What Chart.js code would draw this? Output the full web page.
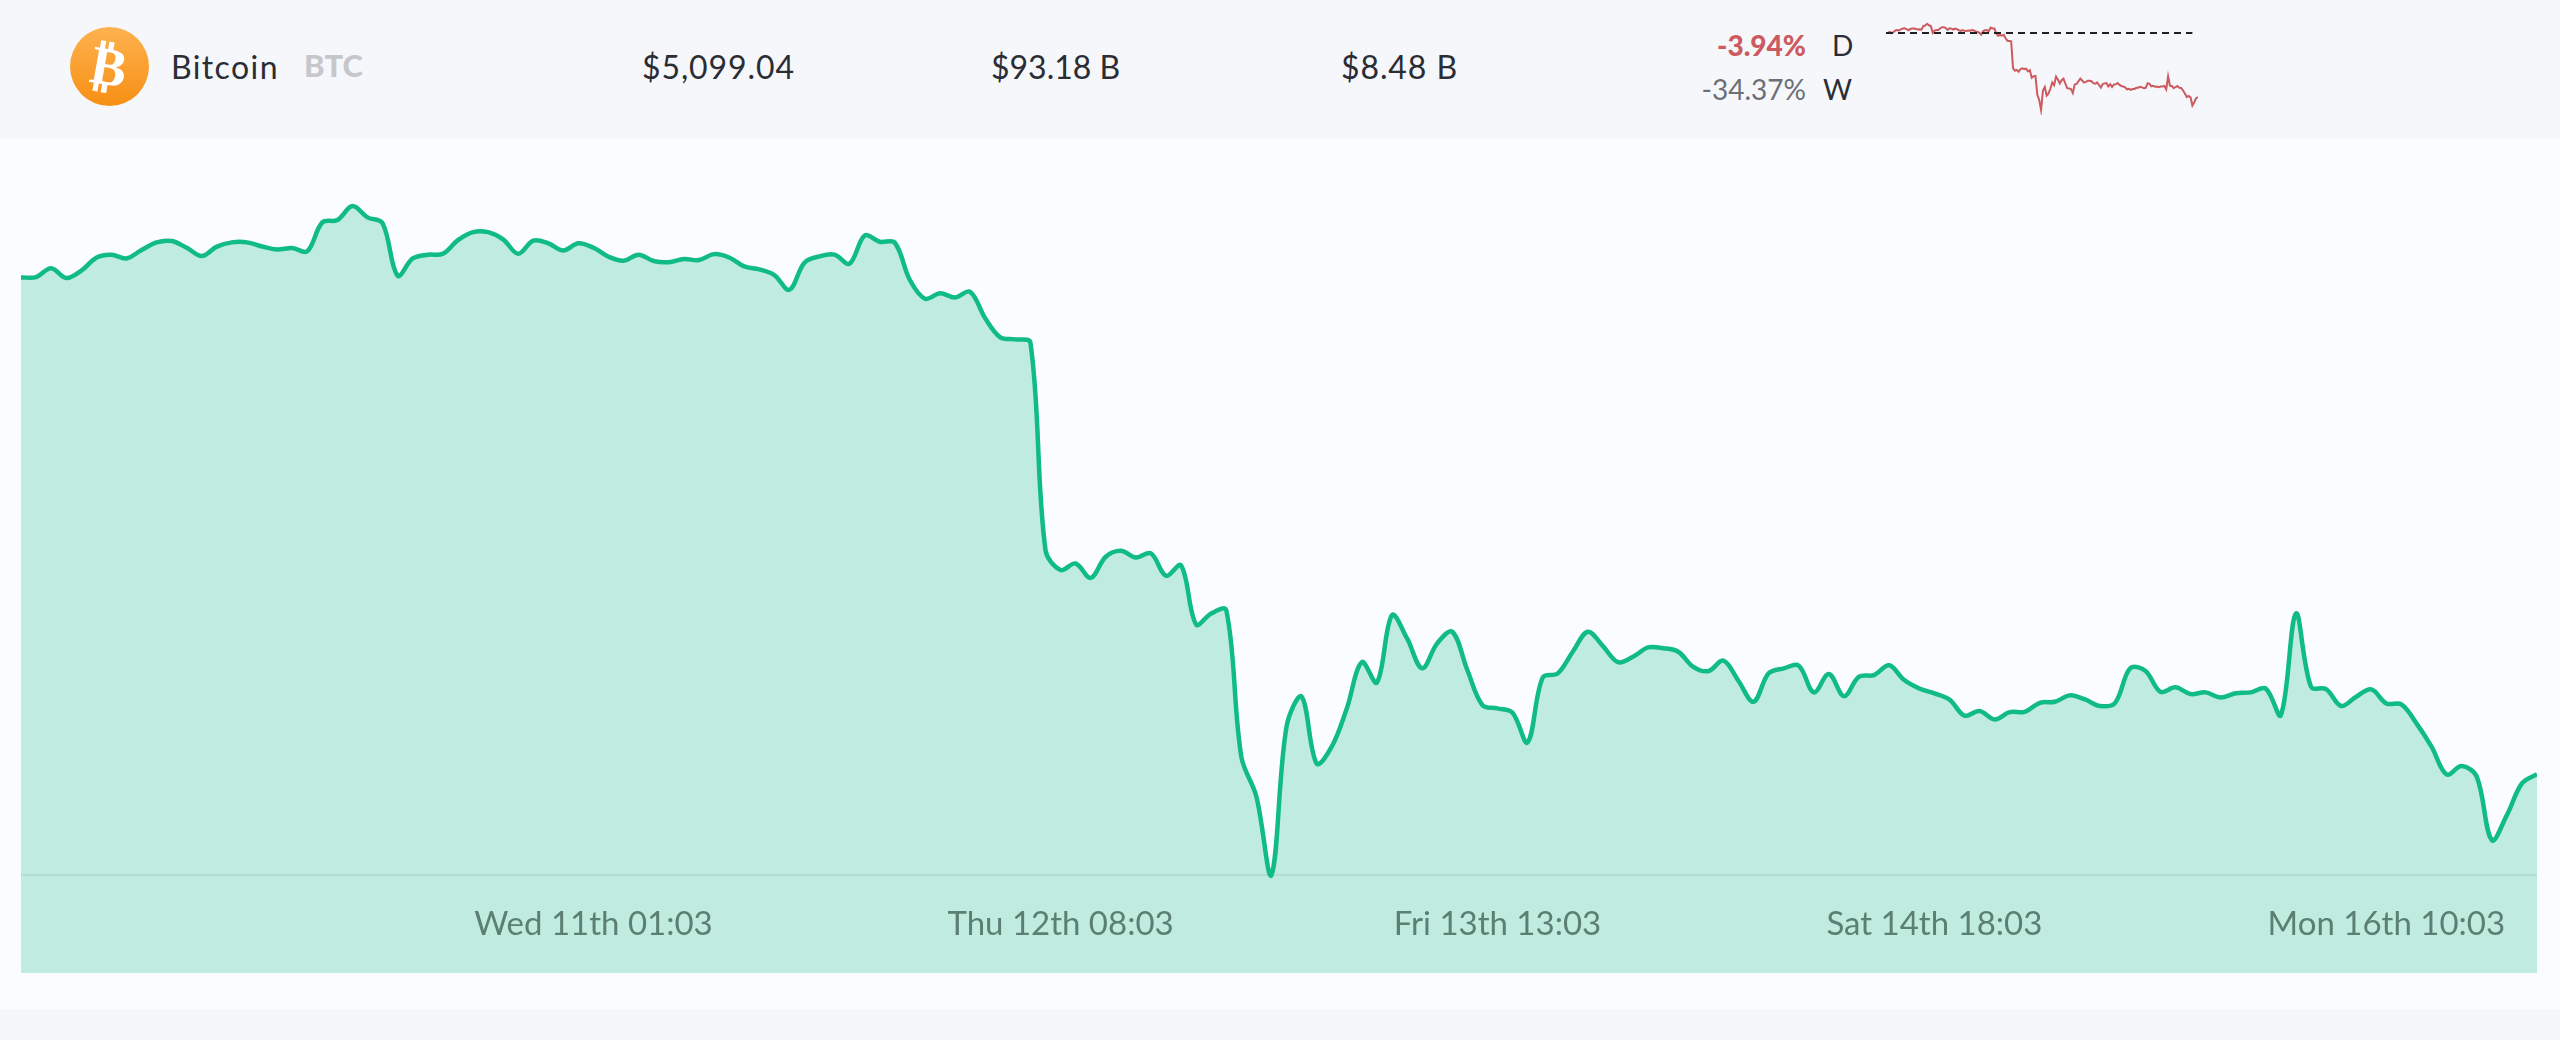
<!DOCTYPE html>
<html><head><meta charset="utf-8">
<script src="https://cdn.jsdelivr.net/npm/chart.js@4"></script>
<style>
html,body{margin:0;padding:0;width:2560px;height:1040px;overflow:hidden;background:#f6f7fb;font-family:Lato,"Open Sans",sans-serif}
#panel{position:absolute;left:0;top:139px;width:2560px;height:870px;background:#fbfcff}
.t{position:absolute;white-space:nowrap;line-height:40px;color:#2b2d35;font-size:32px}
#logo{position:absolute;left:70px;top:27px;width:79px;height:79px;border-radius:50%;background:linear-gradient(#fdb24f,#f78f14);color:#fff;text-align:center;font:bold 54px/79px "DejaVu Sans";}
#logo span{display:inline-block;transform:rotate(10deg)}
canvas{position:absolute;display:block}
</style></head><body>
<div id="panel"></div>
<div id="logo"><span>₿</span></div>
<div class="t" style="left:171px;top:47px;letter-spacing:1.4px">Bitcoin</div>
<div class="t" style="left:304px;top:45px;font-weight:900;color:#c6c7cb;font-size:31px">BTC</div>
<div class="t" style="left:642px;top:47px;letter-spacing:.9px">$5,099.04</div>
<div class="t" style="left:991px;top:47px;">$93.18 B</div>
<div class="t" style="left:1341px;top:47px;letter-spacing:.9px">$8.48 B</div>
<div class="t" style="right:754px;top:25px;font-weight:900;color:#cd5a5e;font-size:28px">-3.94%</div>
<div class="t" style="left:1832px;top:25px;font-size:28px">D</div>
<div class="t" style="right:754px;top:69px;color:#6c6f76;font-size:28px">-34.37%</div>
<div class="t" style="left:1822px;top:69px;font-size:28px;width:30px;text-align:right">W</div>
<canvas id="main" width="2516" height="834" style="left:21px;top:139px;width:2516px;height:834px"></canvas>
<canvas id="spark" width="312" height="100" style="left:1886px;top:15px;width:312px;height:100px"></canvas>
<script>
const prices = [
7766,7768,7815,7763,7802,7872,7888,7868,7913,7954,7961,7925,7881,7931,7954,7954,7932,7916,7924,7906,
8061,8074,8149,8088,8056,7775,7868,7888,7893,7966,8009,8009,7970,7893,7963,7949,7911,7949,7925,7877,
7856,7888,7854,7848,7865,7859,7891,7873,7825,7809,7779,7700,7845,7879,7888,7840,7990,7957,7952,7752,
7652,7681,7659,7689,7547,7445,7434,7416,6305,6198,6233,6156,6269,6301,6265,6287,6167,6223,5906,5965,
5983,5197,4983,4563,5358,5519,5161,5251,5456,5704,5595,5956,5831,5671,5805,5867,5662,5474,5456,5433,
5274,5621,5644,5760,5867,5790,5704,5733,5783,5779,5760,5679,5656,5712,5603,5492,5644,5671,5685,5542,
5640,5522,5626,5635,5687,5608,5563,5537,5504,5417,5442,5397,5436,5438,5486,5492,5526,5504,5469,5486,
5671,5658,5545,5569,5533,5542,5515,5537,5542,5562,5420,5965,5572,5560,5469,5519,5558,5483,5478,5376,
5251,5102,5147,5090,4750,4884,5054,5104];
const tickIndex = [38,69,98,127,157];
const tickLabels = ['Wed 11th 01:03','Thu 12th 08:03','Fri 13th 13:03','Sat 14th 18:03','Mon 16th 10:03'];
const yMin = 4038, yMax = 8508, lowLine = 4563;
const openPrice = 7766;

const categories = prices.map((_, i) => i);

new Chart(document.getElementById('main'), {
  type: 'line',
  data: { labels: categories, datasets: [{
    data: prices, borderColor: '#10bb85', borderWidth: 4.5,
    backgroundColor: 'rgba(16,187,133,0.25)', fill: 'start',
    pointRadius: 0, tension: 0.35, borderJoinStyle: 'round'
  }]},
  options: {
    responsive: false, animation: false, devicePixelRatio: 1,
    layout: { padding: 0 },
    plugins: { legend: {display:false}, tooltip: {enabled:false} },
    scales: {
      x: {
        grid: {display:false, drawTicks:false}, border: {display:false},
        afterFit: s => { s.height = 0; },
        ticks: {
          z: 1, autoSkip: false, maxRotation: 0, minRotation: 0, mirror: true, padding: 29,
          color: '#5b7f72', font: {family:'Lato', size:33},
          callback: (v, i) => { const k = tickIndex.indexOf(i); return k < 0 ? null : tickLabels[k]; }
        }
      },
      y: {
        min: yMin, max: yMax, border: {display:false},
        afterFit: s => { s.width = 0; },
        afterBuildTicks: s => { s.ticks = [{value: lowLine}]; },
        grid: {color: 'rgba(0,70,50,0.09)', lineWidth: 2, drawTicks: false},
        ticks: {display:false}
      }
    }
  }
});

new Chart(document.getElementById('spark'), {
  type: 'line',
  data: { datasets: [
    { data: [{x:0,y:openPrice},{x:164,y:openPrice}], borderColor:'#222', borderWidth:2, borderDash:[7,5], pointRadius:0 },
    { data: prices.map((v,i)=>({x:i,y:v})), borderColor:'#cd5a5e', borderWidth:2, pointRadius:0, tension:0 }
  ]},
  options: {
    responsive:false, animation:false, devicePixelRatio:1,
    layout:{padding:0},
    plugins:{legend:{display:false},tooltip:{enabled:false}},
    scales:{ x:{type:'linear',display:false,min:0,max:167}, y:{display:false,min:4355,max:8515} }
  }
});
</script>
</body></html>
